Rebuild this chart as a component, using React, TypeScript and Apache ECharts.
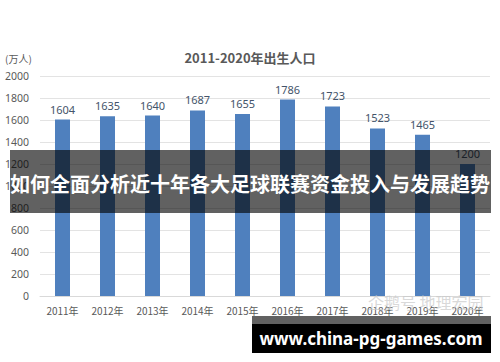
import React, { useEffect, useRef } from "react";
import * as echarts from "echarts";

const categories = ["2011年", "2012年", "2013年", "2014年", "2015年", "2016年", "2017年", "2018年", "2019年", "2020年"];
const births = [1604, 1635, 1640, 1687, 1655, 1786, 1723, 1523, 1465, 1200];
const chartTitle = "2011-2020年出生人口";
const unitLabel = "(万人)";
const bannerText = "如何全面分析近十年各大足球联赛资金投入与发展趋势";
const urlText = "www.china-pg-games.com";
const watermarkText = "企鹅号 地理宏园";

export default function App() {
  const ref = useRef<HTMLDivElement>(null);
  useEffect(() => {
    if (!ref.current) return;
    const chart = echarts.init(ref.current, undefined, { renderer: "svg" });
    chart.setOption({
      animation: false,
      backgroundColor: "#ffffff",
      title: {
        text: chartTitle,
        left: "center",
        top: 46,
        textStyle: { fontSize: 13, fontWeight: "bold", color: "#595959", fontFamily: "Noto Sans CJK SC" },
      },
      grid: { left: 40, right: 10, top: 76, bottom: 66 },
      xAxis: {
        type: "category",
        data: categories,
        axisLine: { lineStyle: { color: "#d9d9d9" } },
        axisTick: { show: false },
        axisLabel: { color: "#595959", fontSize: 10, margin: 9, interval: 0, fontFamily: "Noto Sans CJK SC" },
      },
      yAxis: {
        type: "value",
        min: 0,
        max: 2000,
        interval: 200,
        axisLine: { show: false },
        axisTick: { show: false },
        splitLine: { lineStyle: { color: "#e3e3e3" } },
        axisLabel: {
          color: "#595959",
          fontSize: 10.5,
          margin: 11,
          fontFamily: "Noto Sans",
          formatter: (v: number) => String(v),
        },
      },
      series: [
        {
          type: "bar",
          data: births,
          barWidth: 15,
          itemStyle: { color: "#4f80be" },
          label: {
            show: true,
            position: "top",
            distance: 5,
            color: "#44546a",
            fontSize: 11,
            fontFamily: "Noto Sans",
          },
        },
      ],
      graphic: [
        {
          type: "text",
          left: 5,
          top: 53,
          z: 100,
          style: { text: unitLabel, fontSize: 10, fill: "#595959", fontFamily: "Noto Sans CJK SC" },
        },
        {
          type: "rect",
          z: 100,
          shape: { x: 10, y: 150, width: 481, height: 63 },
          style: { fill: "rgba(0,0,0,0.62)" },
        },
        {
          type: "text",
          z: 101,
          x: 250,
          y: 183,
          style: {
            text: bannerText,
            fontSize: 20,
            fontWeight: "bold",
            fill: "#ffffff",
            align: "center",
            verticalAlign: "middle",
            fontFamily: "Noto Sans CJK SC",
          },
        },
        {
          type: "text",
          z: 99,
          x: 368,
          y: 302,
          style: {
            text: watermarkText,
            fontSize: 16,
            fill: "rgba(200,200,200,0.7)",
            verticalAlign: "middle",
            fontFamily: "Noto Sans CJK SC",
          },
        },
        {
          type: "rect",
          z: 100,
          shape: { x: 252, y: 316, width: 239, height: 8 },
          style: { fill: "rgba(0,0,0,0.62)" },
        },
        {
          type: "rect",
          z: 100,
          shape: { x: 252, y: 324, width: 239, height: 29 },
          style: { fill: "#000000" },
        },
        {
          type: "text",
          z: 101,
          x: 371,
          y: 338,
          style: {
            text: urlText,
            fontSize: 17,
            fontWeight: "bold",
            fill: "#ffffff",
            align: "center",
            verticalAlign: "middle",
            fontFamily: "Noto Sans",
          },
        },
      ],
    });
    return () => chart.dispose();
  }, []);
  return <div ref={ref} style={{ position: "absolute", left: 0, top: 0, width: 500, height: 362 }} />;
}
